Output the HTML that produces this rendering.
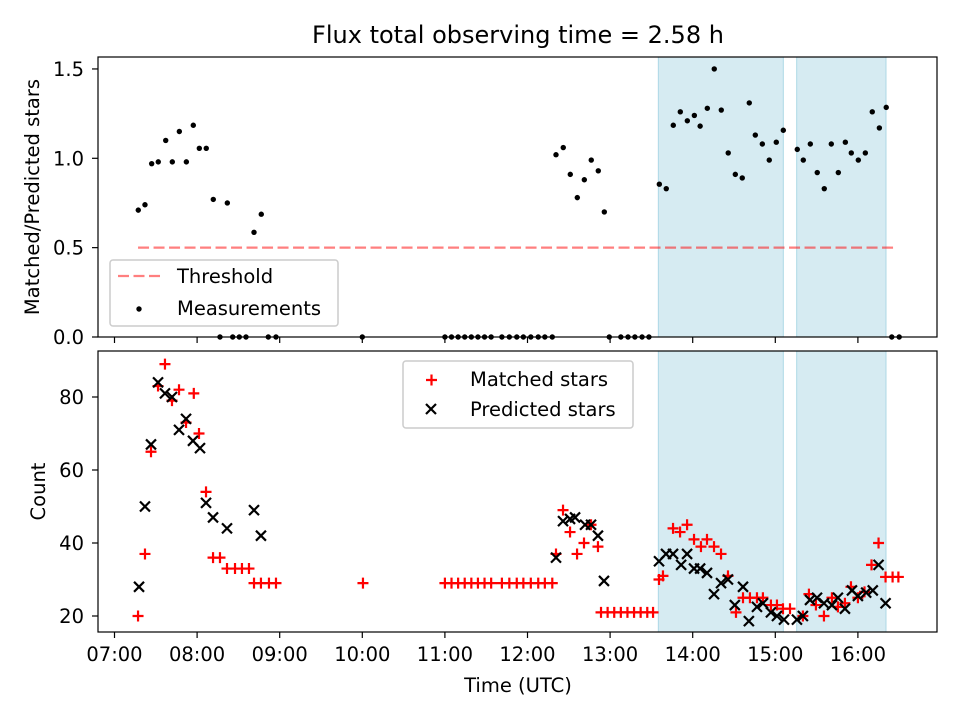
<!DOCTYPE html>
<html><head><meta charset="utf-8"><style>
body{margin:0;background:#fff;}
svg text{font-family:"DejaVu Sans","Liberation Sans",sans-serif;fill:#000;}
</style></head><body>
<svg id="chart" width="960" height="720" viewBox="0 0 960 720" xmlns="http://www.w3.org/2000/svg"></svg>
<script>
const ratioTimes=[7.288,7.369,7.45,7.53,7.62,7.70,7.785,7.87,7.954,8.027,8.111,8.196,8.366,8.689,8.777,
8.277,8.431,8.511,8.592,8.862,8.955,10.0,11.0,11.08,11.16,11.24,11.32,11.40,11.48,11.56,11.69,11.78,11.87,11.95,12.04,12.13,12.21,12.30,12.99,13.13,13.217,13.30,13.387,13.47,16.41,16.50,
12.345,12.433,12.518,12.603,12.688,12.772,12.857,12.93,13.596,13.68,13.765,13.85,13.935,14.02,14.09,14.177,14.261,14.346,14.43,14.516,14.60,14.685,14.758,14.843,14.927,15.012,15.097,15.266,15.339,15.424,15.508,15.593,15.678,15.763,15.848,15.92,16.005,16.09,16.174,16.26,16.343];
const ratioValues=[0.71,0.74,0.97,0.98,1.10,0.98,1.15,0.98,1.185,1.056,1.056,0.77,0.75,0.586,0.687,
0,0,0,0,0,0,0,0,0,0,0,0,0,0,0,0,0,0,0,0,0,0,0,0,0,0,0,0,0,0,0,
1.02,1.06,0.91,0.78,0.88,0.99,0.93,0.70,0.855,0.83,1.185,1.26,1.21,1.24,1.18,1.28,1.50,1.27,1.03,0.91,0.89,1.31,1.13,1.08,0.99,1.09,1.157,1.05,0.99,1.08,0.92,0.83,1.08,0.92,1.09,1.03,0.99,1.03,1.26,1.17,1.285];
const matchedTimes=[7.285,7.369,7.442,7.527,7.611,7.696,7.781,7.866,7.96,8.023,8.108,8.193,8.277,8.362,8.459,8.543,8.628,8.689,8.773,8.870,8.955,10.008,
11.0,11.08,11.16,11.24,11.32,11.40,11.48,11.56,11.69,11.78,11.87,11.95,12.04,12.13,12.21,12.30,
12.345,12.43,12.515,12.60,12.684,12.769,12.853,12.89,12.97,13.05,13.13,13.21,13.29,13.37,13.45,13.52,
13.592,13.64,13.762,13.847,13.932,14.016,14.10,14.173,14.258,14.343,14.427,14.524,14.609,14.693,14.778,14.85,14.947,15.02,15.093,15.178,15.334,15.407,15.492,15.589,15.686,15.758,15.843,15.916,16.0,16.08,16.165,16.25,16.335,16.42,16.49];
const matchedValues=[20,37,65,83,89,79,82,73,81,70,54,36,36,33,33,33,33,29,29,29,29,29,
29,29,29,29,29,29,29,29,29,29,29,29,29,29,29,29,
37,49,43,37,40,45,39,21,21,21,21,21,21,21,21,21,
30,31,44,43,45,41,39,41,39,37,31,21,25,25,25,25,23,23,22,22,20,26,23,20,25,22.5,23.5,28,25,26.6,34,40,30.7,30.7,30.7];
const predictedTimes=[7.297,7.369,7.442,7.527,7.611,7.696,7.781,7.866,7.950,8.035,8.108,8.193,8.362,8.689,8.773,
12.345,12.43,12.515,12.576,12.697,12.769,12.853,12.926,
13.592,13.677,13.762,13.86,13.932,14.016,14.09,14.173,14.258,14.343,14.427,14.51,14.609,14.68,14.778,14.85,14.947,15.02,15.105,15.262,15.334,15.42,15.505,15.589,15.686,15.758,15.843,15.928,16.0,16.1,16.18,16.25,16.335];
const predictedValues=[28,50,67,84,81,80,71,74,68,66,51,47,44,49,42,
36,46,46.6,47,45,45,42,29.6,
35,37,37,34,37,33,33,31.8,26,29,30,23,28,18.6,22.5,23.5,21,20,19,19,20,24.4,25,23.5,23,25,22,27,25.5,26.4,27,34,23.5];
const spanStarts=[13.584,15.259];
const spanEnds=[15.097,16.34];
const thresholdValue=0.5;
const thresholdRange=[7.285,16.45];
const xTickHours=[7,8,9,10,11,12,13,14,15,16];
const xTickLabels=["07:00","08:00","09:00","10:00","11:00","12:00","13:00","14:00","15:00","16:00"];
const topTicks=[0.0,0.5,1.0,1.5];
const topTickLabels=["0.0","0.5","1.0","1.5"];
const botTicks=[20,40,60,80];
const botTickLabels=["20","40","60","80"];

const NS="http://www.w3.org/2000/svg";
const svg=document.getElementById('chart');
function mk(tag,attrs,parent){const e=document.createElementNS(NS,tag);for(const k in attrs)e.setAttribute(k,attrs[k]);(parent||svg).appendChild(e);return e;}
const L=98,R=937,T1=57,B1=337,T2=351,B2=632;
const FS=19.5;
const xS=h=>114.5+(h-7)*82.6;
const yTop=v=>337-v*178.7;
const yBot=v=>616-(v-20)*3.65;

let t=mk('text',{x:518,y:43,'font-size':'24','text-anchor':'middle'});


t.textContent='Flux total observing time = 2.58 h';

function panel(name,T,B,yf,ticks,labels,ylabel){
  const g=mk('g',{});
  
  
  for(let i=0;i<spanStarts.length;i++){
    const r=mk('rect',{x:xS(spanStarts[i]),y:T,width:xS(spanEnds[i])-xS(spanStarts[i]),height:B-T,fill:'#add8e6','fill-opacity':0.5,stroke:'#add8e6','stroke-width':1},g);
    
    
  }
  for(let i=0;i<ticks.length;i++){
    const y=yf(ticks[i]);
    mk('line',{x1:L-6,x2:L,y1:y,y2:y,stroke:'#000','stroke-width':1.2},g);
    const tx=mk('text',{x:L-14,y:y+7,'font-size':FS,'text-anchor':'end'},g);
    
    
    tx.textContent=labels[i];
  }
  for(let i=0;i<xTickHours.length;i++){
    const x=xS(xTickHours[i]);
    mk('line',{x1:x,x2:x,y1:B,y2:B+6,stroke:'#000','stroke-width':1.2},g);
  }
  const yl=mk('text',{x:0,y:0,'font-size':FS,'text-anchor':'middle',transform:`translate(${name==='top-panel'?39:45},${(T+B)/2}) rotate(-90)`},g);
  
  
  yl.textContent=ylabel;
  return g;
}
const g1=panel('top-panel',T1,B1,yTop,topTicks,topTickLabels,'Matched/Predicted stars');
const g2=panel('bottom-panel',T2,B2,yBot,botTicks,botTickLabels,'Count');

const th=mk('line',{x1:xS(thresholdRange[0]),x2:xS(thresholdRange[1]),y1:yTop(thresholdValue),y2:yTop(thresholdValue),stroke:'#ff0000','stroke-opacity':0.5,'stroke-width':2.2,'stroke-dasharray':'11,4.5'},g1);


for(let i=0;i<ratioTimes.length;i++){
  const c=mk('circle',{cx:xS(ratioTimes[i]),cy:yTop(ratioValues[i]),r:2.7,fill:'#000'},g1);
  
  
}
for(let i=0;i<matchedTimes.length;i++){
  const x=xS(matchedTimes[i]),y=yBot(matchedValues[i]);
  const p=mk('path',{d:`M${x-5.5},${y}H${x+5.5}M${x},${y-5.5}V${y+5.5}`,stroke:'#ff0000','stroke-width':2.2},g2);
  
  
}
for(let i=0;i<predictedTimes.length;i++){
  const x=xS(predictedTimes[i]),y=yBot(predictedValues[i]);
  const p=mk('path',{d:`M${x-5},${y-5}L${x+5},${y+5}M${x-5},${y+5}L${x+5},${y-5}`,stroke:'#000','stroke-width':2.2},g2);
  
  
}
const f1=mk('rect',{x:L,y:T1,width:R-L,height:B1-T1,fill:'none',stroke:'#000','stroke-width':1.2});


const f2=mk('rect',{x:L,y:T2,width:R-L,height:B2-T2,fill:'none',stroke:'#000','stroke-width':1.2});


for(let i=0;i<xTickHours.length;i++){
  const tx=mk('text',{x:xS(xTickHours[i]),y:B2+29,'font-size':FS,'text-anchor':'middle'});
  
  
  tx.textContent=xTickLabels[i];
}
const xl=mk('text',{x:518,y:692,'font-size':FS,'text-anchor':'middle'});


xl.textContent='Time (UTC)';

const lg1=mk('g',{});


mk('rect',{x:110,y:260,width:228,height:66,rx:3,fill:'#fff','fill-opacity':0.8,stroke:'#ccc','stroke-width':1.5},lg1);
mk('line',{x1:118,x2:160,y1:276,y2:276,stroke:'#ff0000','stroke-opacity':0.5,'stroke-width':2.2,'stroke-dasharray':'11,4.5'},lg1);
let lt=mk('text',{x:177,y:283,'font-size':FS},lg1);


lt.textContent='Threshold';
mk('circle',{cx:139,cy:309,r:2.7,fill:'#000'},lg1);
lt=mk('text',{x:177,y:315,'font-size':FS},lg1);


lt.textContent='Measurements';

const lg2=mk('g',{});


mk('rect',{x:403,y:361,width:230,height:67,rx:3,fill:'#fff','fill-opacity':0.8,stroke:'#ccc','stroke-width':1.5},lg2);
mk('path',{d:'M426,380H437M431.5,374.5V385.5',stroke:'#ff0000','stroke-width':2.2},lg2);
lt=mk('text',{x:470,y:386,'font-size':FS},lg2);


lt.textContent='Matched stars';
mk('path',{d:'M426,404L436,414M426,414L436,404',stroke:'#000','stroke-width':2.2},lg2);
lt=mk('text',{x:470,y:416,'font-size':FS},lg2);


lt.textContent='Predicted stars';
</script>
</body></html>
